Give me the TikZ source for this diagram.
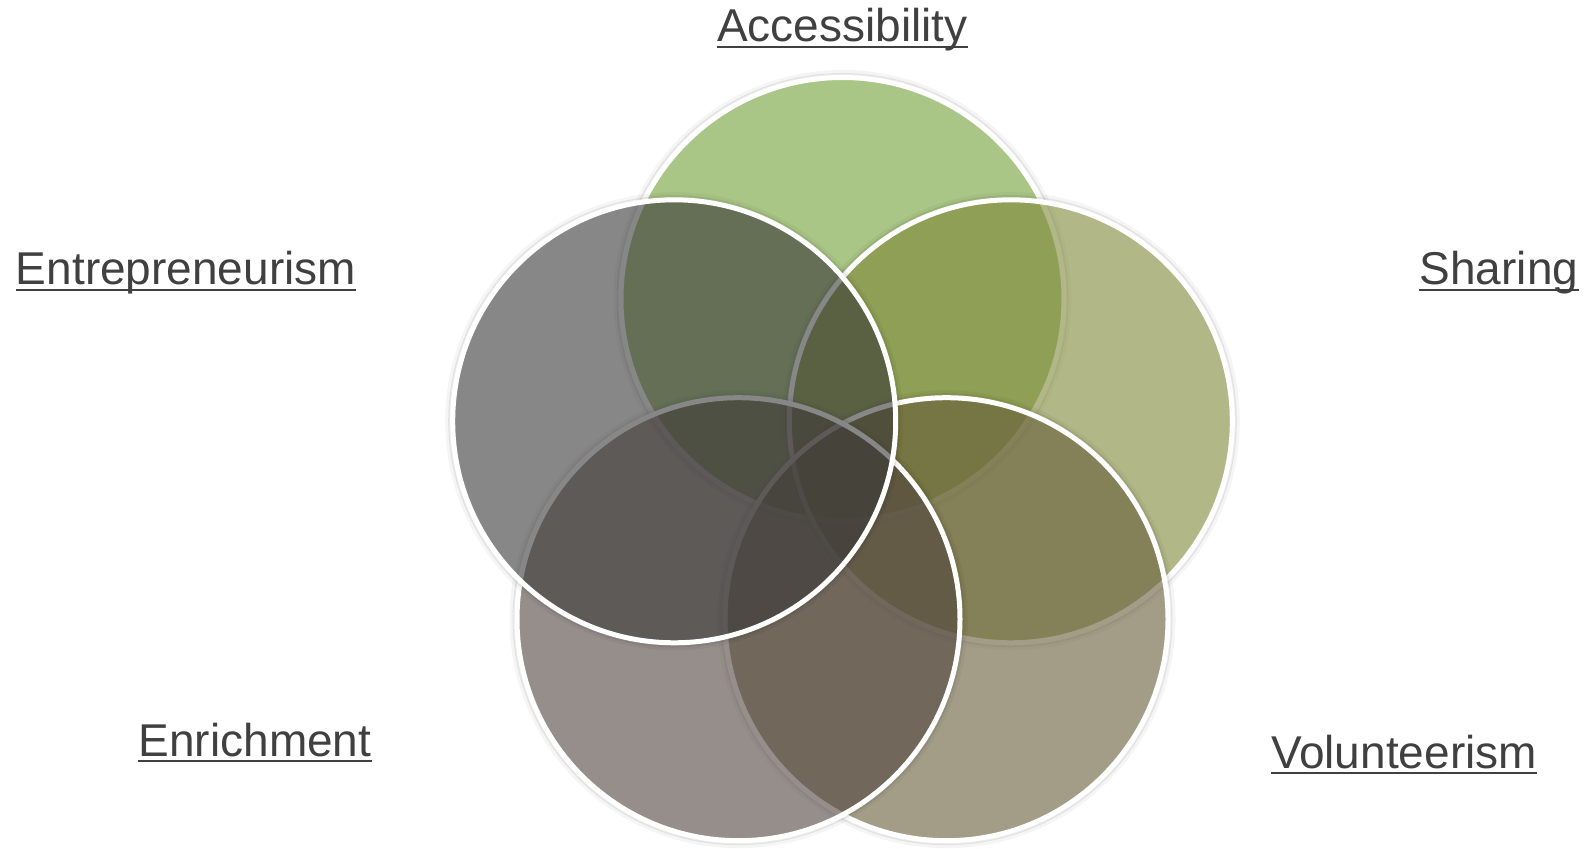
\documentclass[tikz,border=0pt]{standalone}
\usepackage{fontspec}
\setmainfont{Liberation Sans}
\definecolor{cAcc}{RGB}{112,160,53}
\definecolor{cSha}{RGB}{127,135,55}
\definecolor{cVol}{RGB}{102,92,57}
\definecolor{cEnr}{RGB}{80,67,62}
\definecolor{cEnt}{RGB}{55,55,55}
\definecolor{txt}{RGB}{64,64,64}
\begin{document}
\begin{tikzpicture}[x=0.5pt,y=-0.5pt,
  circ/.style={circle, minimum size=221.5pt, inner sep=0pt, draw=white, line width=2.5pt,
    fill opacity=0.6},
  haloa/.style={draw=black, draw opacity=0.08, line width=1.5pt},
  halob/.style={draw=black, draw opacity=0.04, line width=2pt},
  lab/.style={font=\fontsize{23}{27}\selectfont, text=txt, inner sep=0pt, anchor=base},
  uline/.style={draw=txt, line width=1.2pt}]
\useasboundingbox (0,0) rectangle (1585,849);
\foreach \c/\x/\y/\n in {cAcc/842.5/299/acc, cSha/1010.8/421.3/sha, cVol/946.5/619.2/vol, cEnr/738.5/619.2/enr, cEnt/674.2/421.3/ent}{
  \draw[halob] (\x,\y) circle[radius=227];
  \draw[haloa] (\x,\y) circle[radius=224.5];
  \node[circ, fill=\c] (\n) at (\x,\y) {};
}
\node[lab] (tacc) at (842.5,42) {Accessibility};
\node[lab] (tent) at (186,285) {Entrepreneurism};
\node[lab] (tsha) at (1499,285) {Sharing};
\node[lab] (tenr) at (255,756) {Enrichment};
\node[lab] (tvol) at (1404,768) {Volunteerism};
\foreach \n in {tacc,tent,tsha,tenr,tvol}
  \draw[uline] ([yshift=-2.5pt]\n.base west) -- ([yshift=-2.5pt]\n.base east);
\end{tikzpicture}
\end{document}
